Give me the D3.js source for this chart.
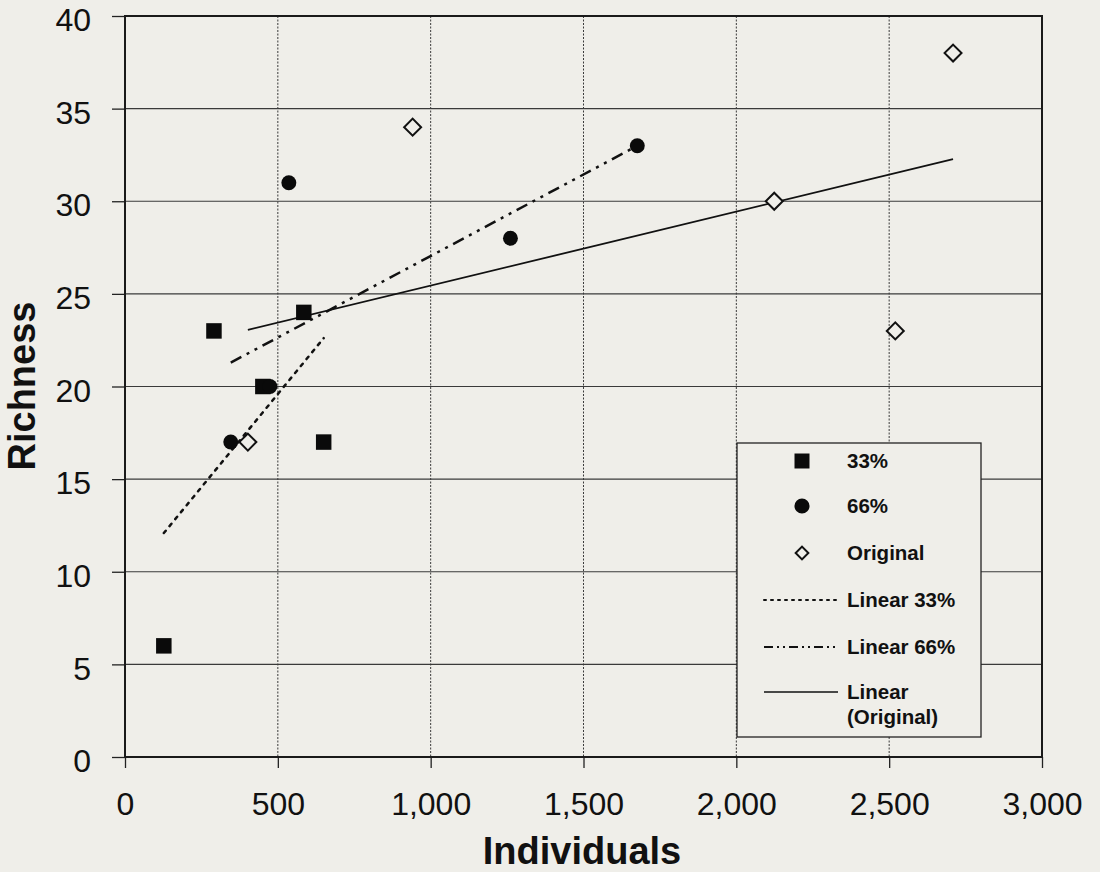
<!DOCTYPE html>
<html><head><meta charset="utf-8">
<script src="https://cdn.jsdelivr.net/npm/d3@7"></script>
<style>
html,body{margin:0;padding:0;background:#efeee9;}
svg{display:block;}
</style></head>
<body>
<svg id="chart" width="1100" height="872"></svg>
<script>
// Data
const s33x = [127, 291, 451, 585, 650];
const s33y = [6, 23, 20, 24, 17];
const s66x = [346, 474, 536, 1261, 1676];
const s66y = [17, 20, 31, 28, 33];
const origX = [402, 941, 2124, 2520, 2709];
const origY = [17, 34, 30, 23, 38];
const xTicks = [0, 500, 1000, 1500, 2000, 2500, 3000];
const yTicks = [0, 5, 10, 15, 20, 25, 30, 35, 40];
const legendLabels = ["33%", "66%", "Original", "Linear 33%", "Linear 66%", ["Linear", "(Original)"]];

const svg = d3.select("#chart");
const L = 125, R = 1042, T = 16, B = 757;
const x = d3.scaleLinear().domain([0, 3000]).range([L, R]);
const y = d3.scaleLinear().domain([0, 40]).range([B, T]);
const font = "'Liberation Sans', Arial, sans-serif";

// plot background
svg.append("rect").attr("x", L).attr("y", T).attr("width", R - L).attr("height", B - T).attr("fill", "#efeee9");

// gridlines
svg.append("g").selectAll("line").data(yTicks.slice(1, -1)).join("line")
  .attr("x1", L).attr("x2", R).attr("y1", d => y(d)).attr("y2", d => y(d))
  .attr("stroke", "#3a3a3a").attr("stroke-width", 1.1);
svg.append("g").selectAll("line").data(xTicks.slice(1, -1)).join("line")
  .attr("y1", T).attr("y2", B).attr("x1", d => x(d)).attr("x2", d => x(d))
  .attr("stroke", "#3a3a3a").attr("stroke-width", 1).attr("stroke-dasharray", "2,1.5");

// axes
const xAxis = d3.axisBottom(x).tickValues(xTicks).tickSize(11).tickPadding(24)
  .tickFormat(d3.format(","));
const yAxis = d3.axisLeft(y).tickValues(yTicks).tickSize(13).tickPadding(21);
const gx = svg.append("g").attr("transform", `translate(0,${B})`).call(xAxis);
const gy = svg.append("g").attr("transform", `translate(${L},0)`).call(yAxis);
[gx, gy].forEach(g => {
  g.select(".domain").remove();
  g.selectAll(".tick line").attr("stroke", "#222").attr("stroke-width", 1.3);
  g.selectAll(".tick text").attr("font-family", font).attr("font-size", 32).attr("fill", "#111");
});
gx.selectAll(".tick text").attr("dy", "0.71em");
gy.selectAll(".tick text").attr("dy", "0.46em");

// frame
svg.append("rect").attr("x", L).attr("y", T).attr("width", R - L).attr("height", B - T)
  .attr("fill", "none").attr("stroke", "#1a1a1a").attr("stroke-width", 2);

// axis titles
svg.append("text").attr("x", 582).attr("y", 864).attr("text-anchor", "middle")
  .attr("font-family", font).attr("font-weight", "bold").attr("font-size", 38).attr("fill", "#111")
  .text("Individuals");
svg.append("text").attr("transform", `translate(35,386) rotate(-90)`).attr("text-anchor", "middle")
  .attr("font-family", font).attr("font-weight", "bold").attr("font-size", 38).attr("fill", "#111")
  .text("Richness");

// regression
function fit(xs, ys) {
  const mx = d3.mean(xs), my = d3.mean(ys);
  let sxy = 0, sxx = 0;
  xs.forEach((v, i) => { sxy += (v - mx) * (ys[i] - my); sxx += (v - mx) * (v - mx); });
  const b = sxy / sxx, a = my - b * mx;
  const x0 = d3.min(xs), x1 = d3.max(xs);
  return [[x0, a + b * x0], [x1, a + b * x1]];
}
const lineStyles = [
  {dash: "3,6", width: 2.5, cap: "round"},
  {dash: "12,6,3,6,3,6", width: 2.5, cap: "butt"},
  {dash: null, width: 1.8, cap: "butt"}
];
const fits = [fit(s33x, s33y), fit(s66x, s66y), fit(origX, origY)];
fits.forEach((f, i) => {
  const st = lineStyles[i];
  svg.append("line").attr("x1", x(f[0][0])).attr("y1", y(f[0][1]))
    .attr("x2", x(f[1][0])).attr("y2", y(f[1][1]))
    .attr("stroke", "#111").attr("stroke-width", st.width)
    .attr("stroke-linecap", st.cap)
    .attr("stroke-dasharray", st.dash);
});

// points
const sq = d3.symbol().type(d3.symbolSquare).size(240);
const ci = d3.symbol().type(d3.symbolCircle).size(175);
svg.append("g").selectAll("path").data(s33x.map((v, i) => [v, s33y[i]])).join("path")
  .attr("d", sq).attr("transform", d => `translate(${x(d[0])},${y(d[1])})`).attr("fill", "#0a0a0a");
svg.append("g").selectAll("path").data(s66x.map((v, i) => [v, s66y[i]])).join("path")
  .attr("d", ci).attr("transform", d => `translate(${x(d[0])},${y(d[1])})`).attr("fill", "#0a0a0a");
svg.append("g").selectAll("rect").data(origX.map((v, i) => [v, origY[i]])).join("rect")
  .attr("x", -6).attr("y", -6).attr("width", 12).attr("height", 12)
  .attr("transform", d => `translate(${x(d[0])},${y(d[1])}) rotate(45)`)
  .attr("fill", "#efeee9").attr("stroke", "#111").attr("stroke-width", 2);

// legend
const lg = svg.append("g");
lg.append("rect").attr("x", 737).attr("y", 443).attr("width", 244).attr("height", 294)
  .attr("fill", "#efeee9").attr("stroke", "#222").attr("stroke-width", 1.3);
const rowY = [461, 506, 553, 600, 647, 692];
const symX = 802, txtX = 847;
lg.append("path").attr("d", d3.symbol().type(d3.symbolSquare).size(225)).attr("transform", `translate(${symX},${rowY[0]})`).attr("fill", "#0a0a0a");
lg.append("path").attr("d", d3.symbol().type(d3.symbolCircle).size(180)).attr("transform", `translate(${symX},${rowY[1]})`).attr("fill", "#0a0a0a");
lg.append("rect").attr("x", -4.5).attr("y", -4.5).attr("width", 9).attr("height", 9)
  .attr("transform", `translate(${symX},${rowY[2]}) rotate(45)`)
  .attr("fill", "none").attr("stroke", "#111").attr("stroke-width", 2);
[0, 1, 2].forEach(i => {
  const st = lineStyles[i];
  lg.append("line").attr("x1", 764).attr("x2", 838).attr("y1", rowY[3 + i]).attr("y2", rowY[3 + i])
    .attr("stroke", "#111").attr("stroke-width", i === 2 ? 1.6 : 2)
    .attr("stroke-linecap", st.cap)
    .attr("stroke-dasharray", i === 0 ? "2,5" : (i === 1 ? "9,4,2,4,2,4" : null));
});
legendLabels.forEach((lab, i) => {
  const t = lg.append("text").attr("x", txtX).attr("y", rowY[i]).attr("dy", "0.35em")
    .attr("font-family", font).attr("font-weight", "bold").attr("font-size", 20.5).attr("fill", "#111");
  if (Array.isArray(lab)) {
    lab.forEach((s, j) => t.append("tspan").attr("x", txtX).attr("dy", j === 0 ? "0.35em" : "1.22em").text(s));
  } else t.text(lab);
});
</script>
</body></html>
